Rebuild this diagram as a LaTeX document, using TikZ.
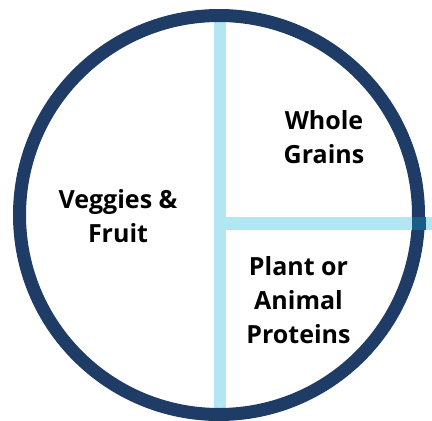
\documentclass[tikz,border=0pt]{standalone}
\usepackage{fontspec}
\setmainfont{Open Sans}
\definecolor{navy}{HTML}{1F3C66}
\definecolor{lightblue}{HTML}{B3E6F3}
\definecolor{overlap}{HTML}{1A5E86}
\begin{document}
\begin{tikzpicture}[x=1pt,y=-1pt,
  label/.style={font=\bfseries\fontsize{25}{34}\selectfont, align=center, inner sep=0pt, anchor=base, text=black},
  divider/.style={lightblue, line width=13pt},
  rim/.style={navy, line width=13pt}]
\useasboundingbox (0,0) rectangle (432,421);
\coordinate (c) at (219,215);
\coordinate (vtop) at (220,22);
\coordinate (vbot) at (220,409);
\coordinate (hl) at (226,223.5);
\coordinate (hr) at (432,223.5);
\draw[divider, line width=12pt] (vtop) -- (vbot);
\draw[rim] (c) circle[radius=199.5];
\draw[divider] (hl) -- (hr);
\fill[overlap] (412,217) rectangle (425.5,230);
\node[label] (veg) at (118,242) {Veggies \&\\Fruit};
\node[label] (grain) at (324,163) {Whole\\Grains};
\node[label] (prot) at (298.5,343) {Plant or\\Animal\\Proteins};
\end{tikzpicture}
\end{document}
